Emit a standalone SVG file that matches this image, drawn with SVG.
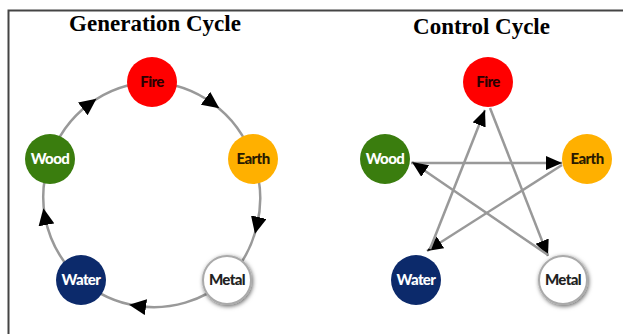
<svg xmlns="http://www.w3.org/2000/svg" width="623" height="334" viewBox="0 0 623 334">
<style>
.title{font-family:"Liberation Serif","Times New Roman",serif;font-weight:bold;font-size:23px;fill:#000;text-anchor:middle}
.lbl{font-family:Lato,"Open Sans",sans-serif;font-weight:900;font-size:15px;text-anchor:middle;letter-spacing:-0.6px}
.link{fill:none;stroke:#999;stroke-width:2.5}
.arc{marker-mid:url(#mid)}
.star{marker-end:url(#tip)}
</style>
<defs>
<marker id="mid" markerUnits="userSpaceOnUse" markerWidth="18" markerHeight="16" refX="8" refY="8" orient="auto">
<path d="M0,0 L17,8 L0,16 z" fill="#000"/>
</marker>
<marker id="tip" markerUnits="userSpaceOnUse" markerWidth="17" markerHeight="15" refX="16" refY="7" orient="auto">
<path d="M0,0 L16,7 L0,14 z" fill="#000"/>
</marker>
<filter id="shadow" x="-40%" y="-40%" width="180%" height="180%">
<feDropShadow dx="1" dy="1.5" stdDeviation="2" flood-color="#000" flood-opacity="0.6"/>
</filter>
</defs>
<rect width="623" height="334" fill="#fff"/>
<path d="M8.5,334 V10.5 H623" fill="none" stroke="#444" stroke-width="2"/>
<text class="title" x="155" y="31">Generation Cycle</text>
<text class="title" x="481.5" y="34">Control Cycle</text>
<g id="connectors">
<path class="link arc" d="M50,159 A112,112 0 0 1 89.2,104.1 A112,112 0 0 1 152,82"/>
<path class="link arc" d="M152,82 A112,112 0 0 1 212,103 A112,112 0 0 1 253,159"/>
<path class="link arc" d="M253,159 A112,112 0 0 1 257,225 A112,112 0 0 1 227,280"/>
<path class="link arc" d="M227,280 A112,112 0 0 1 138,306 A112,112 0 0 1 81,280"/>
<path class="link arc" d="M81,280 A112,112 0 0 1 45,217 A112,112 0 0 1 50,159"/>
<path class="link star" d="M411,163 L562,163"/>
<path class="link star" d="M562,165 L427,251"/>
<path class="link star" d="M430,249 L485,110"/>
<path class="link star" d="M490,108 L548,256"/>
<path class="link star" d="M548,255 L412,162"/>
</g>
<g id="gen-fire"><circle cx="152" cy="82" r="25" fill="#ff0000"/><text class="lbl" x="152" y="87" fill="#2a0000">Fire</text></g>
<g id="gen-wood"><circle cx="50" cy="159" r="25" fill="#3a7d0e"/><text class="lbl" x="50" y="164" fill="#fff">Wood</text></g>
<g id="gen-earth"><circle cx="253" cy="159" r="25" fill="#ffb000"/><text class="lbl" x="253" y="164" fill="#2a1a00">Earth</text></g>
<g id="gen-water"><circle cx="81" cy="280" r="25" fill="#0c2a6b"/><text class="lbl" x="81" y="285" fill="#fff">Water</text></g>
<g id="gen-metal"><circle cx="227" cy="280" r="24" fill="#fff" stroke="#aaa" stroke-width="2" filter="url(#shadow)"/><text class="lbl" x="227" y="285" fill="#222">Metal</text></g>
<g id="ctl-fire"><circle cx="488" cy="82" r="25" fill="#ff0000"/><text class="lbl" x="488" y="87" fill="#2a0000">Fire</text></g>
<g id="ctl-wood"><circle cx="385" cy="159" r="25" fill="#3a7d0e"/><text class="lbl" x="385" y="164" fill="#fff">Wood</text></g>
<g id="ctl-earth"><circle cx="587" cy="159" r="25" fill="#ffb000"/><text class="lbl" x="587" y="164" fill="#2a1a00">Earth</text></g>
<g id="ctl-water"><circle cx="416" cy="280" r="25" fill="#0c2a6b"/><text class="lbl" x="416" y="285" fill="#fff">Water</text></g>
<g id="ctl-metal"><circle cx="563" cy="280" r="24" fill="#fff" stroke="#aaa" stroke-width="2" filter="url(#shadow)"/><text class="lbl" x="563" y="285" fill="#222">Metal</text></g>
</svg>
